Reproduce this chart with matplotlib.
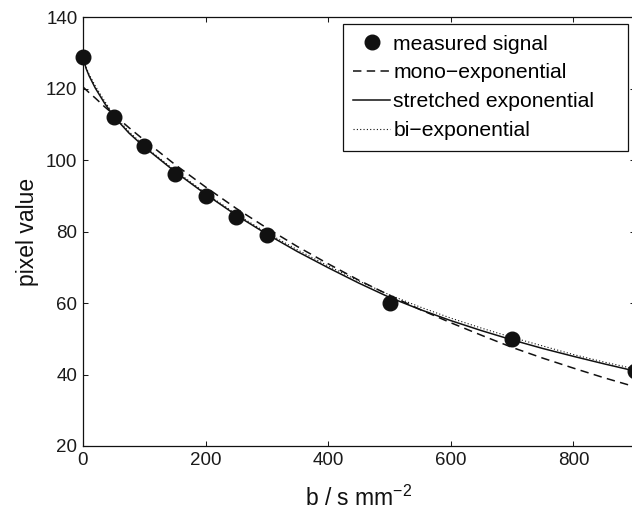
import matplotlib
matplotlib.use("Agg")
import matplotlib.pyplot as plt

# ---- data ----
b_meas = [0, 50, 100, 150, 200, 250, 300, 500, 700, 900]
s_meas = [129, 112, 104, 96, 90, 84, 79, 60, 50, 41]

b_fit = [0, 5, 10, 20, 35, 50, 75, 100, 150, 200, 250, 300, 350, 400, 450,
         500, 550, 600, 650, 700, 750, 800, 850, 900]
mono = [120.5, 119.7, 118.9, 117.4, 115.0, 112.8, 109.1, 105.6, 98.8, 92.5,
        86.5, 81.0, 75.8, 71.0, 66.4, 62.2, 58.2, 54.5, 51.0, 47.6, 44.6,
        41.8, 39.1, 36.6]
stretched = [129.0, 125.7, 123.6, 120.2, 116.0, 112.3, 107.6, 103.7, 96.8,
             90.5, 84.6, 79.3, 74.4, 69.9, 65.6, 61.6, 58.2, 55.1, 52.3, 49.7,
             47.3, 45.1, 43.0, 41.0]
biexp = [128.7, 126.0, 124.0, 120.8, 116.6, 112.7, 108.0, 104.0, 97.1, 90.8,
         84.9, 79.7, 74.9, 70.4, 66.2, 62.3, 58.9, 55.8, 53.0, 50.4, 48.0,
         45.6, 43.5, 41.6]

xticks = [0, 200, 400, 600, 800]
yticks = [20, 40, 60, 80, 100, 120, 140]

plt.rcParams['font.family'] = ['Liberation Sans', 'DejaVu Sans']
plt.rcParams['mathtext.fontset'] = 'custom'
plt.rcParams['mathtext.rm'] = 'Liberation Sans'
plt.rcParams['mathtext.it'] = 'Liberation Sans:italic'
plt.rcParams['mathtext.bf'] = 'Liberation Sans:bold'

W, H = 632, 509
fig = plt.figure(figsize=(W / 100, H / 100), dpi=100)
ax = fig.add_axes([83 / W, (H - 446) / H, (634.7 - 83) / W, (446 - 17.3) / H])

ink = '#111111'
ax.plot(b_meas, s_meas, 'o', color=ink, markersize=10.5, clip_on=False,
        zorder=5, label='measured signal')
ax.plot(b_fit, mono, color=ink, lw=1.1, dashes=(5.5, 3.5),
        label='mono\u2212exponential')
ax.plot(b_fit, stretched, color=ink, lw=1.1, label='stretched exponential')
ax.plot(b_fit, biexp, color=ink, lw=0.8, linestyle=(0, (1, 2)),
        label='bi\u2212exponential')

ax.set_xlim(0, 900)
ax.set_ylim(20, 140)
ax.set_xticks(xticks)
ax.set_yticks(yticks)
ax.tick_params(direction='in', length=3.6, width=0.75, top=True, right=True,
               labelsize=13.5, colors='#1a1a1a', pad=4)
for s in ax.spines.values():
    s.set_linewidth(0.9)
    s.set_color('#111111')

ax.set_xlabel('b / s mm$^{\u2212 2}$', fontsize=16.5, labelpad=12, color='#111111')
ax.set_ylabel('pixel value', fontsize=16.5, labelpad=5, color='#111111')

leg = ax.legend(loc='upper left', bbox_to_anchor=(342.7 / W, (H - 24) / H - 0.3, 285 / W, 0.3),
                bbox_transform=fig.transFigure, mode='expand', borderaxespad=0,
                fontsize=15.2, numpoints=1, handlelength=1.75, handletextpad=0.15,
                labelspacing=0.47, borderpad=0.5, fancybox=False, framealpha=1,
                edgecolor='#111111')
leg.get_frame().set_linewidth(0.9)

fig.savefig('out.png', dpi=100)
